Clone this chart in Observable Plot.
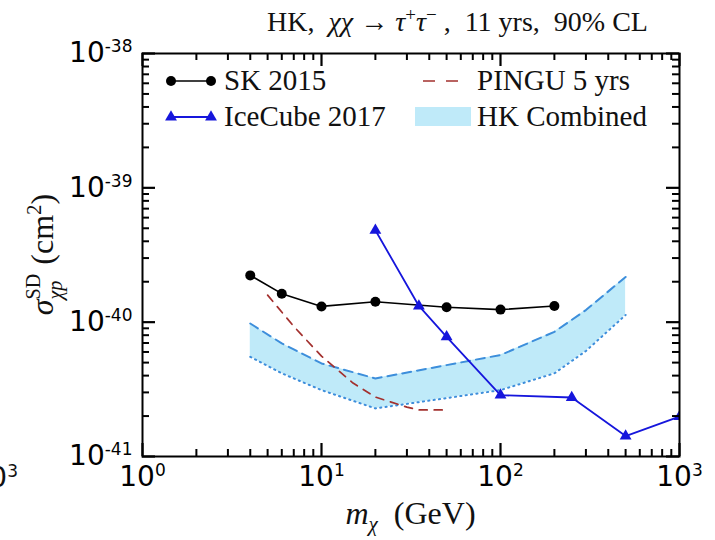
<!DOCTYPE html>
<html>
<head>
<meta charset="utf-8">
<script src="https://cdn.jsdelivr.net/npm/d3@7"></script>
<script src="https://cdn.jsdelivr.net/npm/@observablehq/plot@0.6"></script>
<style>
  html, body { margin: 0; padding: 0; background: #fff; }
  svg { display: block; }
</style>
</head>
<body>
<div id="chart"></div>
<script>
// ---- data ----
const skMass  = [4, 6, 10, 20, 50, 100, 200];
const skSigma = [2.23e-40, 1.63e-40, 1.31e-40, 1.42e-40, 1.29e-40, 1.24e-40, 1.32e-40];

const icMass  = [20, 35, 50, 100, 250, 500, 1000];
const icSigma = [4.83e-40, 1.32e-40, 7.78e-41, 2.86e-41, 2.75e-41, 1.42e-41, 1.98e-41];

const pinguMass  = [5, 7, 10, 15, 20, 30, 35, 50];
const pinguSigma = [1.59e-40, 9.3e-41, 5.58e-41, 3.52e-41, 2.77e-41, 2.33e-41, 2.22e-41, 2.22e-41];

const hkMass  = [4, 6, 10, 20, 50, 100, 200, 300, 500];
const hkUpper = [9.77e-41, 6.95e-41, 4.93e-41, 3.81e-41, 4.79e-41, 5.69e-41, 8.47e-41, 1.23e-40, 2.17e-40];
const hkLower = [5.52e-41, 4.16e-41, 3.12e-41, 2.28e-41, 2.72e-41, 3.12e-41, 4.16e-41, 6.1e-41, 1.13e-40];

const xMajor = [1, 10, 100, 1000];
const xTickExp = ["0", "1", "2", "3"];
const yMajor = [1e-41, 1e-40, 1e-39, 1e-38];
const yTickExp = ["-41", "-40", "-39", "-38"];

const legendLabels = ["SK 2015", "IceCube 2017", "PINGU 5 yrs", "HK Combined"];

// ---- derived tables ----
const sk = skMass.map((m, i) => ({m, s: skSigma[i]}));
const ic = icMass.map((m, i) => ({m, s: icSigma[i]}));
const pingu = pinguMass.map((m, i) => ({m, s: pinguSigma[i]}));
const hk = hkMass.map((m, i) => ({m, hi: hkUpper[i], lo: hkLower[i]}));

const minorTicks = (majors) => {
  const out = [];
  for (let k = 0; k < majors.length - 1; k++)
    for (let j = 2; j <= 9; j++) out.push(majors[k] * j);
  return out;
};
const xMinor = minorTicks(xMajor);
const yMinor = minorTicks(yMajor);

const C = {
  band: "#bfeaf9",
  hkLine: "#3d8edb",
  pingu: "#a3302e",
  ic: "#1616dc",
  sk: "#000000",
  tick: "#000000"
};

const serif = "'Liberation Serif', 'Times New Roman', serif";
const sans = "'DejaVu Sans', sans-serif";

const W = 715, H = 540;
const M = {left: 142, right: 36, top: 53, bottom: 84};
const PW = W - M.left - M.right, PH = H - M.top - M.bottom;

// inward tick marks: full-frame ticks inset from the opposite side of the frame
const xTicks = (vals, len, w) => [
  Plot.tickX(vals, {x: d => d, insetTop: PH - len, stroke: C.tick, strokeWidth: w}),
  Plot.tickX(vals, {x: d => d, insetBottom: PH - len, stroke: C.tick, strokeWidth: w})
];
const yTicks = (vals, len, w) => [
  Plot.tickY(vals, {y: d => d, insetRight: PW - len, stroke: C.tick, strokeWidth: w}),
  Plot.tickY(vals, {y: d => d, insetLeft: PW - len, stroke: C.tick, strokeWidth: w})
];

const chart = Plot.plot({
  width: W,
  height: H,
  marginLeft: M.left,
  marginRight: M.right,
  marginTop: M.top,
  marginBottom: M.bottom,
  x: {type: "log", domain: [1, 1000]},
  y: {type: "log", domain: [1e-41, 1e-38]},
  style: {fontFamily: sans, background: "white", overflow: "visible"},
  marks: [
    Plot.areaY(hk, {x: "m", y1: "lo", y2: "hi", fill: C.band}),
    Plot.line(hk, {x: "m", y: "hi", stroke: C.hkLine, strokeWidth: 2, strokeDasharray: "9,6"}),
    Plot.line(hk, {x: "m", y: "lo", stroke: C.hkLine, strokeWidth: 2, strokeDasharray: "1.2,4.2", strokeLinecap: "round"}),
    Plot.line(pingu, {x: "m", y: "s", stroke: C.pingu, strokeWidth: 1.7, strokeDasharray: "8,7"}),
    Plot.line(sk, {x: "m", y: "s", stroke: C.sk, strokeWidth: 1.6}),
    Plot.dot(sk, {x: "m", y: "s", r: 5, fill: C.sk}),
    Plot.line(ic, {x: "m", y: "s", stroke: C.ic, strokeWidth: 1.8, clip: true}),
    Plot.dot(ic, {x: "m", y: "s", symbol: "triangle", r: 4.4, fill: C.ic, clip: true}),

    ...xTicks(xMajor, 13, 2.2),
    ...xTicks(xMinor, 7, 2),
    ...yTicks(yMajor, 13, 2.2),
    ...yTicks(yMinor, 7, 2),

    // tick labels
    Plot.axisX({anchor: "bottom", ticks: xMajor, tickSize: 0, tickPadding: 10, fontSize: 28, label: null,
      tickFormat: (d) => "10^" + xTickExp[xMajor.indexOf(d)]}),
    Plot.axisY({anchor: "left", ticks: yMajor, tickSize: 0, tickPadding: 10, fontSize: 28, label: null,
      tickFormat: (d) => "10^" + yTickExp[yMajor.findIndex(v => Math.abs(v / d - 1) < 1e-6)]}),

    Plot.frame({stroke: "black", strokeWidth: 2})
  ]
});

document.getElementById("chart").appendChild(chart);

const svg = d3.select(chart);
svg.selectAll("g[aria-label$='tick label'] text").each(function () {
  const s = this.textContent;
  if (!s.includes("^")) return;
  const [base, exp] = s.split("^");
  const t = d3.select(this);
  t.text(null);
  t.append("tspan").text(base);
  t.append("tspan").attr("dy", -10).attr("font-size", 17).text(exp);
});

const [x0, x1] = chart.scale("x").range;
const [yb, yt] = chart.scale("y").range;
const cx = (x0 + x1) / 2;

// Title
const title = svg.append("text")
  .attr("x", cx + 47).attr("y", yt - 22)
  .attr("text-anchor", "middle")
  .attr("font-family", serif).attr("font-size", 28).attr("fill", "#111");
title.append("tspan").text("HK,  ");
title.append("tspan").attr("font-style", "italic").text("χχ");
title.append("tspan").text(" → ");
title.append("tspan").attr("font-style", "italic").text("τ");
title.append("tspan").attr("dy", -10).attr("font-size", 19).text("+");
title.append("tspan").attr("dy", 10).attr("font-style", "italic").text("τ");
title.append("tspan").attr("dy", -10).attr("font-size", 19).text("−");
title.append("tspan").attr("dy", 10).text(" ,  11 yrs,  90% CL");

// X label
const xl = svg.append("text")
  .attr("x", cx).attr("y", yb + 68)
  .attr("text-anchor", "middle")
  .attr("font-family", serif).attr("font-size", 32).attr("fill", "#111");
xl.append("tspan").attr("font-style", "italic").text("m");
xl.append("tspan").attr("font-style", "italic").attr("font-size", 21).attr("dy", 7).text("χ");
xl.append("tspan").attr("dy", -7).text("  (GeV)");

// Y label
const yl = svg.append("text")
  .attr("transform", `translate(${x0 - 89},${(yb + yt) / 2}) rotate(-90)`)
  .attr("text-anchor", "middle")
  .attr("font-family", serif).attr("font-size", 32).attr("fill", "#111");
yl.append("tspan").attr("font-style", "italic").text("σ");
const supT = yl.append("tspan").attr("dy", -13).attr("font-size", 20).text("SD");
const supW = supT.node().getComputedTextLength();
yl.append("tspan").attr("dy", 22).attr("dx", -supW).attr("font-size", 20).attr("font-style", "italic").text("χp");
yl.append("tspan").attr("dy", -9).text("  (cm");
yl.append("tspan").attr("dy", -12).attr("font-size", 21).text("2");
yl.append("tspan").attr("dy", 12).text(")");

// Partial label of the neighbouring panel at the left edge
const nb = svg.append("text")
  .attr("x", 18).attr("y", 487).attr("text-anchor", "end")
  .attr("font-family", sans).attr("font-size", 28).attr("fill", "#111");
nb.append("tspan").text("10");
nb.append("tspan").attr("dy", -10).attr("font-size", 17).text("3");

// Legend
const lg = svg.append("g").attr("font-family", serif).attr("font-size", 29)
  .attr("fill", "#111").attr("text-anchor", "start");
const r1 = yt + 28, r2 = yt + 64;
const lx0 = x0 + 29, lx1 = x0 + 69;
// SK
lg.append("line").attr("x1", lx0).attr("x2", lx1).attr("y1", r1).attr("y2", r1).attr("stroke", C.sk).attr("stroke-width", 1.6);
[lx0, lx1].forEach(x => lg.append("circle").attr("cx", x).attr("cy", r1).attr("r", 5).attr("fill", C.sk));
lg.append("text").attr("x", x0 + 82).attr("y", r1 + 9).text(legendLabels[0]);
// IceCube
lg.append("line").attr("x1", lx0).attr("x2", lx1).attr("y1", r2).attr("y2", r2).attr("stroke", C.ic).attr("stroke-width", 1.8);
const tri = d3.symbol(d3.symbolTriangle, Math.PI * 4.4 * 4.4)();
[lx0, lx1].forEach(x => lg.append("path").attr("d", tri).attr("transform", `translate(${x},${r2})`).attr("fill", C.ic));
lg.append("text").attr("x", x0 + 82).attr("y", r2 + 9).text(legendLabels[1]);
// PINGU
lg.append("line").attr("x1", x0 + 281).attr("x2", x0 + 316).attr("y1", r1).attr("y2", r1)
  .attr("stroke", C.pingu).attr("stroke-width", 1.7).attr("stroke-dasharray", "12,11");
lg.append("text").attr("x", x0 + 335).attr("y", r1 + 9).text(legendLabels[2]);
// HK band
lg.append("rect").attr("x", x0 + 273).attr("y", r2 - 10).attr("width", 56).attr("height", 19).attr("fill", C.band);
lg.append("text").attr("x", x0 + 335).attr("y", r2 + 9).text(legendLabels[3]);
</script>
</body>
</html>
